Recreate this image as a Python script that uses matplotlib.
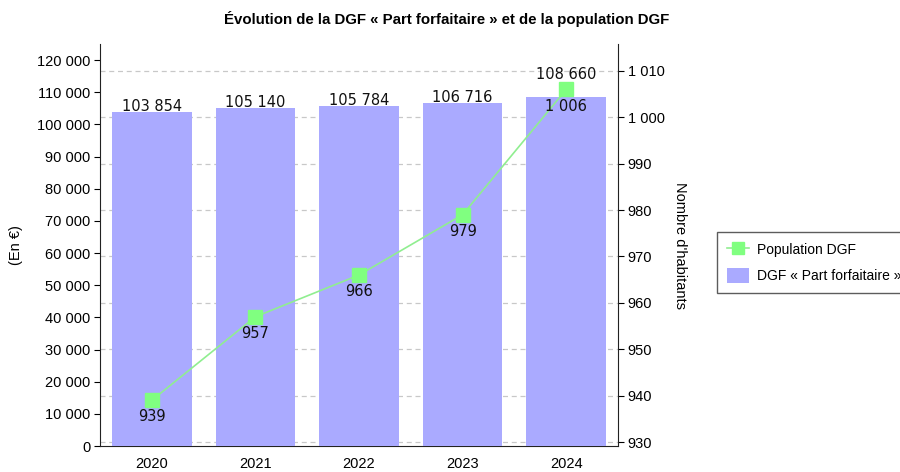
import matplotlib
matplotlib.use("Agg")
import matplotlib.pyplot as plt
from matplotlib.ticker import FuncFormatter

years = ["2020", "2021", "2022", "2023", "2024"]
dgf = [103854, 105140, 105784, 106716, 108660]
population = [939, 957, 966, 979, 1006]

def fmt(v, pos=None):
    return f"{int(round(v)):,}".replace(",", " ")

plt.rcParams['font.family'] = ['Liberation Sans', 'DejaVu Sans']
fig = plt.figure(figsize=(9, 4.72), dpi=100)
ax = fig.add_axes([100/900, 1-446/472, 518/900, 402/472])
ax2 = ax.twinx()

x = list(range(len(years)))
ax.set_xlim(-0.5, 4.5)
ax.set_ylim(0, 125000)
ax2.set_ylim(929.14, 1015.8)

# gridlines aligned to right axis
for t in range(930, 1011, 10):
    ax2.axhline(t, color="#c8c8c8", linestyle=(0, (4, 3)), linewidth=0.9, zorder=0)

ax.set_zorder(ax2.get_zorder() + 1)
ax.patch.set_visible(False)

bars = ax.bar(x, dgf, width=0.77, color="#aaaaff", zorder=2, label="DGF « Part forfaitaire »")
bar_label_offsets = [4, 4, 4, 4, 16]  # points above bar top (last one shifted to avoid overlap)
for xi, v, off in zip(x, dgf, bar_label_offsets):
    ax.annotate(fmt(v), (xi, v), xytext=(0, off), textcoords="offset points",
                ha="center", va="center", fontsize=10.5,
                family="DejaVu Sans", color="#111111", zorder=5)

# line on secondary scale, drawn on ax via transform
line_y = [ax.transData.inverted().transform(ax2.transData.transform((xi, p)))[1] for xi, p in zip(x, population)]
ln, = ax.plot(x, line_y, color="#90ee90", linewidth=1.2, marker="s", markersize=9.5,
              markerfacecolor="#80ff80", markeredgecolor="#80ff80", zorder=4, label="Population DGF")
for xi, yv, p in zip(x, line_y, population):
    ax.annotate(fmt(p), (xi, yv), xytext=(0, -12), textcoords="offset points",
                ha="center", va="center", fontsize=10.5, family="DejaVu Sans",
                color="#111111", zorder=6)

ax.set_yticks(range(0, 120001, 10000))
ax.yaxis.set_major_formatter(FuncFormatter(fmt))
ax2.set_yticks(range(930, 1011, 10))
ax2.yaxis.set_major_formatter(FuncFormatter(fmt))

ax.set_xticks(x)
ax.set_xticklabels(years, fontsize=10.5)
ax.tick_params(axis="x", length=0, pad=8)
ax.tick_params(axis="y", labelsize=10.5, length=4, direction="out", pad=3)
ax2.tick_params(axis="y", labelsize=10.5, length=4, direction="out", pad=3)

for a in (ax, ax2):
    a.spines["top"].set_visible(False)
ax.spines["left"].set_color("#222222")
ax2.spines["right"].set_color("#222222")
ax.spines["bottom"].set_color("#222222")
ax2.spines["left"].set_visible(False)
ax2.spines["bottom"].set_visible(False)
ax.spines["right"].set_visible(False)
ax.spines["bottom"].set_zorder(1)

ax.set_ylabel("(En €)", fontsize=10.5, labelpad=10)
ax2.set_ylabel("Nombre d'habitants", fontsize=10.5, rotation=-90, labelpad=16)

fig.text(447/900, 1-19/472, "Évolution de la DGF « Part forfaitaire » et de la population DGF",
         ha="center", va="center", fontsize=10.8, fontweight="bold")

leg = fig.legend(handles=[ln, bars], labels=["Population DGF", "DGF « Part forfaitaire »"],
                 loc="upper left", bbox_to_anchor=(717/900, 1-232/472), fontsize=10,
                 frameon=True, fancybox=False, edgecolor="#333333", borderpad=0.7,
                 borderaxespad=0, handlelength=1.6, handleheight=1.3, handletextpad=0.6,
                 labelspacing=0.8, markerscale=0.9)
leg.get_frame().set_linewidth(1.0)

fig.savefig("out.png", dpi=100)
